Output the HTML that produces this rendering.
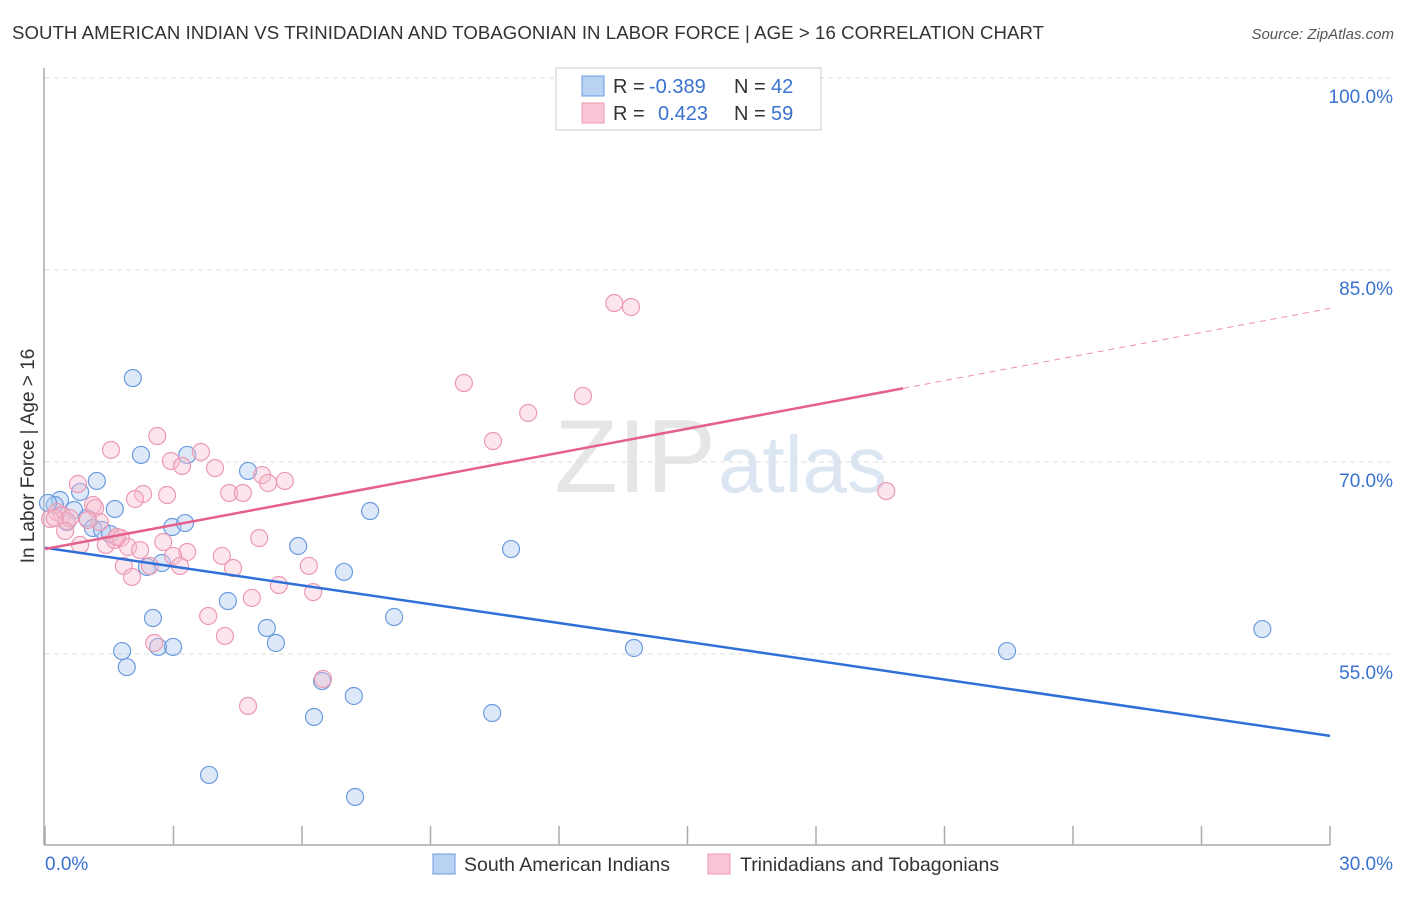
<!DOCTYPE html>
<html><head><meta charset="utf-8"><style>
body{margin:0;background:#fff;font-family:"Liberation Sans",sans-serif;}
svg text{font-family:"Liberation Sans",sans-serif;}
</style></head><body>
<svg id="chart" width="1406" height="892" viewBox="0 0 1406 892" xmlns="http://www.w3.org/2000/svg">
<text x="12" y="39" font-size="18.6" fill="#333" textLength="1032">SOUTH AMERICAN INDIAN VS TRINIDADIAN AND TOBAGONIAN IN LABOR FORCE | AGE &gt; 16 CORRELATION CHART</text>
<text x="1394" y="39" font-size="15" fill="#555" text-anchor="end" font-style="italic">Source: ZipAtlas.com</text>
<text x="716" y="492" font-size="104" fill="#e6e6e6" text-anchor="end" font-family="Liberation Serif,serif">ZIP</text>
<text x="718" y="492" font-size="80" fill="#dce6f3">atlas</text>
<g id="grid"></g>
<line x1="44" y1="68" x2="44" y2="845" stroke="#aaa" stroke-width="1.5"/>
<line x1="44" y1="845" x2="1330" y2="845" stroke="#aaa" stroke-width="1.5"/>
<g id="xticks"></g>
<text transform="translate(34,456) rotate(-90)" font-size="19" fill="#333" text-anchor="middle">In Labor Force | Age &gt; 16</text>
<text x="45" y="870" font-size="19" fill="#3a72d0">0.0%</text>
<text x="1393" y="870" font-size="19" fill="#3a72d0" text-anchor="end">30.0%</text>
<g id="points"></g>
<g id="lines"></g>
<g>
<rect x="556" y="68" width="265" height="62" fill="#fff" stroke="#ccc"/>
<rect x="582" y="76" width="22" height="20" fill="#b9d1f3" stroke="#6d9be0"/>
<rect x="582" y="103" width="22" height="20" fill="#f8c6d4" stroke="#ec9ab4"/>
<text x="613" y="93" font-size="20" fill="#333">R =</text>
<text x="649" y="93" font-size="20" fill="#3a72d0">-0.389</text>
<text x="734" y="93" font-size="20" fill="#333">N =</text>
<text x="771" y="93" font-size="20" fill="#3a72d0">42</text>
<text x="613" y="120" font-size="20" fill="#333">R =</text>
<text x="658" y="120" font-size="20" fill="#3a72d0">0.423</text>
<text x="734" y="120" font-size="20" fill="#333">N =</text>
<text x="771" y="120" font-size="20" fill="#3a72d0">59</text>
</g>
<g>
<rect x="433" y="854" width="22" height="20" fill="#b9d1f3" stroke="#6d9be0"/>
<text x="464" y="871" font-size="19.5" fill="#333">South American Indians</text>
<rect x="708" y="854" width="22" height="20" fill="#f8c6d4" stroke="#ec9ab4"/>
<text x="740" y="871" font-size="19.5" fill="#333">Trinidadians and Tobagonians</text>
</g>
</svg>
<script>
const yTicks=[100,85,70,55];
const yTickLabels=["100.0%","85.0%","70.0%","55.0%"];
const blueX=[2.05,2.24,3.32,1.21,0.82,0.35,0.23,0.07,1.63,0.68,0.98,0.51,1.12,1.33,1.52,2.97,3.27,4.74,7.59,5.91,10.88,2.73,2.38,6.98,4.27,2.52,8.15,5.18,5.39,2.64,2.99,1.80,1.91,13.75,22.46,28.42,6.47,7.21,6.28,10.44,3.83,7.24];
const blueY=[76.56,70.55,70.55,68.52,67.66,67.03,66.64,66.80,66.33,66.25,65.62,65.31,64.84,64.69,64.37,64.92,65.23,69.30,66.17,63.44,63.20,62.11,61.80,61.41,59.14,57.81,57.89,57.03,55.86,55.55,55.55,55.23,53.98,55.47,55.23,56.95,52.89,51.72,50.08,50.39,45.55,43.83];
const pinkX=[13.29,13.68,9.78,12.56,11.28,10.46,2.62,1.54,3.64,2.94,3.20,3.97,5.07,5.21,5.60,2.29,2.85,4.30,4.62,0.77,1.12,1.17,2.10,19.64,0.28,0.40,0.12,0.51,0.58,0.47,1.28,0.82,1.42,1.63,1.77,1.94,2.22,2.76,3.32,2.99,4.13,5.00,4.39,1.84,2.45,3.15,2.03,6.16,5.46,4.83,6.26,3.81,4.20,2.55,6.49,4.74,1.68,1.00,0.23];
const pinkY=[82.42,82.11,76.17,75.16,73.83,71.64,72.03,70.94,70.78,70.08,69.69,69.53,68.98,68.36,68.52,67.50,67.42,67.58,67.58,68.28,66.64,66.41,67.11,67.73,66.09,65.86,65.55,65.39,65.62,64.61,65.31,63.52,63.52,63.91,64.06,63.36,63.12,63.75,62.97,62.66,62.66,64.06,61.72,61.88,61.88,61.88,61.02,61.88,60.39,59.38,59.84,57.97,56.41,55.86,53.05,50.94,64.14,65.47,65.62];
const blueTrend=[63.3,48.6];
const pinkTrend=[63.2,82.0];
const pinkSolidEnd=20.03;
const xTicks=[0,3,6,9,12,15,18,21,24,27,30];

const NS="http://www.w3.org/2000/svg";
const sx=v=>45+v*(1285/30);
const sy=v=>78+(100-v)*12.8;
function mk(tag,attrs,parent){const e=document.createElementNS(NS,tag);for(const k in attrs)e.setAttribute(k,attrs[k]);document.getElementById(parent).appendChild(e);return e;}

yTicks.forEach((t,i)=>{
  const l=mk('line',{x1:45,x2:1393,y1:sy(t),y2:sy(t),stroke:'#ddd','stroke-dasharray':'5,4'},'grid');
  
  
  const tx=mk('text',{x:1393,y:sy(t)+25,'font-size':19,fill:'#3a72d0','text-anchor':'end'},'grid');
  tx.textContent=yTickLabels[i];
  
  
});
xTicks.forEach(t=>{
  const l=mk('line',{x1:sx(t),x2:sx(t),y1:826,y2:845,stroke:'#aaa','stroke-width':1.5},'xticks');
  
  
});
blueX.forEach((x,i)=>{
  const c=mk('circle',{cx:sx(x),cy:sy(blueY[i]),r:8.5,fill:'rgba(170,200,240,0.4)',stroke:'#6d9be0','stroke-width':1.2},'points');
  
  
});
pinkX.forEach((x,i)=>{
  const c=mk('circle',{cx:sx(x),cy:sy(pinkY[i]),r:8.5,fill:'rgba(248,190,208,0.4)',stroke:'#ec9ab4','stroke-width':1.2},'points');
  
  
});
const at=(tr,x)=>tr[0]+(tr[1]-tr[0])*x/30;
let l1=mk('line',{x1:sx(0),y1:sy(at(blueTrend,0)),x2:sx(30),y2:sy(at(blueTrend,30)),stroke:'#2f6fd6','stroke-width':2.5},'lines');


let l2=mk('line',{x1:sx(0),y1:sy(at(pinkTrend,0)),x2:sx(pinkSolidEnd),y2:sy(at(pinkTrend,pinkSolidEnd)),stroke:'#e5608a','stroke-width':2.5},'lines');


let l3=mk('line',{x1:sx(pinkSolidEnd),y1:sy(at(pinkTrend,pinkSolidEnd)),x2:sx(30),y2:sy(at(pinkTrend,30)),stroke:'#ec90ad','stroke-width':1,'stroke-dasharray':'6,5'},'lines');


</script>
</body></html>
